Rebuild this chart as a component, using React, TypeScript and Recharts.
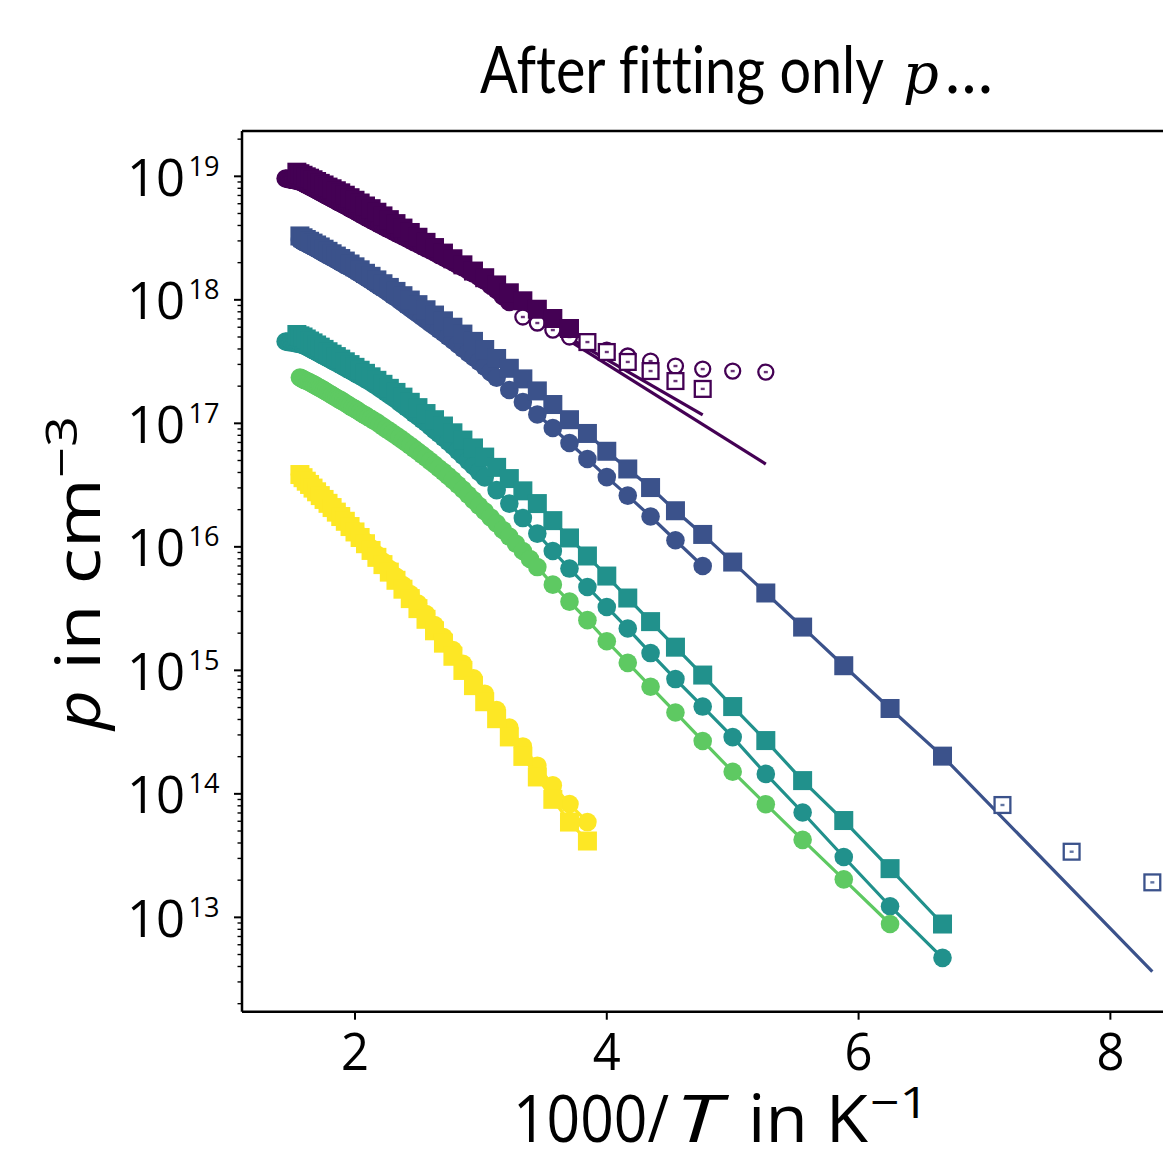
import React from "react";
import { ComposedChart, Line, Scatter, XAxis, YAxis, ReferenceLine } from "recharts";

// ---------- layout constants ----------
const W = 1163;
const H = 1149;
const PLOT_LEFT = 242;
const PLOT_TOP = 131;
const PLOT_BOTTOM = 1011.7;
const X_MIN = 1.1025;
const X_MAX = 8.418;
const Y_MIN = 1.722e12;
const Y_MAX = 2.328e19;

const PURPLE = "#440154";
const BLUE = "#3b528b";
const TEAL = "#21918c";
const GREEN = "#5ec962";
const YELLOW = "#fde725";

// ---------- data ----------
// measurement temperatures in K (x axis shows 1000/T)
const temperaturesK = [
  690, 680, 670, 660, 650, 640, 630, 620, 610, 600, 590, 580, 570, 560, 550, 540, 530, 520, 510, 500,
  490, 480, 470, 460, 450, 440, 430, 420, 410, 400, 390, 380, 370, 360, 350, 340, 330, 320, 310, 300,
  290, 280, 270, 260, 250, 240, 230, 220, 210, 200, 190, 180, 170, 160, 150, 140, 130, 120,
];
// finer temperature grid of the high-temperature circle runs
const temperaturesFineK = [
  690, 685, 680, 675, 670, 665, 660, 655, 650, 645, 640, 635, 630, 625, 620, 615, 610, 605, 600, 595,
  590, 585, 580, 575, 570, 565, 560, 555, 550, 545, 540, 535, 530, 525, 520, 515, 510, 505, 500, 495,
  490, 485, 480, 475, 470, 465, 460, 455, 450, 445, 440, 435, 430, 425, 420, 415, 410, 405, 400, 395,
  390, 385, 380, 375, 370, 365, 360, 355, 350, 345, 340, 335, 330, 325, 320, 315, 310, 305, 300, 295, 290,
];

const xTicks = [2, 4, 6, 8];
const yDecades = [12, 13, 14, 15, 16, 17, 18, 19];

// purple sample
const purpleCirclesFilled = [ // 690..310 K, 5 K steps
  9.6e18, 9.55e18, 9.51e18, 9.46e18, 9.42e18, 9.37e18, 9.33e18, 9.28e18, 9.23e18, 9.15e18,
  9.08e18, 8.95e18, 8.83e18, 8.69e18, 8.55e18, 8.41e18, 8.27e18, 8.13e18, 8.0e18, 7.86e18,
  7.72e18, 7.58e18, 7.44e18, 7.3e18, 7.16e18, 7.02e18, 6.89e18, 6.74e18, 6.6e18, 6.46e18,
  6.33e18, 6.19e18, 6.06e18, 5.92e18, 5.78e18, 5.64e18, 5.5e18, 5.37e18, 5.24e18, 5.1e18,
  4.97e18, 4.83e18, 4.7e18, 4.56e18, 4.43e18, 4.31e18, 4.19e18, 4.06e18, 3.94e18, 3.82e18,
  3.71e18, 3.59e18, 3.48e18, 3.37e18, 3.26e18, 3.15e18, 3.04e18, 2.93e18, 2.83e18, 2.72e18,
  2.62e18, 2.52e18, 2.42e18, 2.31e18, 2.21e18, 2.11e18, 2.02e18, 1.92e18, 1.83e18, 1.73e18,
  1.63e18, 1.53e18, 1.43e18, 1.31e18, 1.2e18, 1.07e18, 9.6e17,
];
const purpleCirclesOpen = [7.26e17, 6.49e17, 5.69e17, 5.0e17, 4.47e17, 3.92e17, 3.51e17, 3.19e17, 2.91e17, 2.75e17, 2.65e17, 2.6e17]; // 300..190 K
const purpleSquaresFilled = [ // 650..270 K
  1.08e19, 1.05e19, 1.02e19, 9.91e18, 9.66e18, 9.38e18, 9.08e18, 8.77e18, 8.51e18, 8.18e18,
  7.93e18, 7.64e18, 7.35e18, 7.03e18, 6.71e18, 6.4e18, 6.08e18, 5.75e18, 5.47e18, 5.12e18,
  4.78e18, 4.46e18, 4.14e18, 3.81e18, 3.51e18, 3.21e18, 2.92e18, 2.65e18, 2.39e18, 2.15e18,
  1.92e18, 1.71e18, 1.51e18, 1.32e18, 1.14e18, 9.82e17, 8.39e17, 7.06e17, 5.86e17,
];
const purpleSquaresOpen = [4.55e17, 3.78e17, 3.14e17, 2.65e17, 2.2e17, 1.9e17]; // 260..210 K
const purpleSquareFitK = [310, 210];
const purpleSquareFit = [9.35e17, 1.17e17];
const purpleCircleFitK = [310, 190];
const purpleCircleFit = [9.42e17, 4.68e16];

// blue sample
const blueSquaresFilled = [ // 640..150 K
  3.29e18, 3.18e18, 3.08e18, 2.98e18, 2.88e18, 2.78e18, 2.68e18, 2.57e18, 2.47e18, 2.36e18,
  2.26e18, 2.16e18, 2.06e18, 1.95e18, 1.85e18, 1.75e18, 1.64e18, 1.55e18, 1.45e18, 1.35e18,
  1.26e18, 1.17e18, 1.08e18, 9.96e17, 9.14e17, 8.31e17, 7.53e17, 6.76e17, 6.0e17, 5.28e17,
  4.61e17, 3.96e17, 3.35e17, 2.79e17, 2.29e17, 1.83e17, 1.42e17, 1.07e17, 8.28e16, 5.94e16,
  4.27e16, 3.02e16, 1.96e16, 1.26e16, 7.53e15, 4.23e15, 2.24e15, 1.09e15, 4.91e14, 2.02e14,
];
const blueSquaresOpen = [8.12e13, 3.4e13, 1.92e13]; // 140, 130, 120 K
const blueSquareFitEndK = 120;
const blueSquareFitEnd = 3.63e12;
const blueCirclesFine = [ // 640..320 K, 5 K steps
  3.05e18, 3.0e18, 2.95e18, 2.9e18, 2.86e18, 2.81e18, 2.77e18, 2.72e18, 2.68e18, 2.63e18,
  2.58e18, 2.53e18, 2.48e18, 2.43e18, 2.38e18, 2.33e18, 2.29e18, 2.24e18, 2.19e18, 2.14e18,
  2.1e18, 2.05e18, 2.0e18, 1.95e18, 1.91e18, 1.86e18, 1.82e18, 1.77e18, 1.72e18, 1.67e18,
  1.62e18, 1.57e18, 1.52e18, 1.47e18, 1.42e18, 1.37e18, 1.32e18, 1.27e18, 1.23e18, 1.18e18,
  1.13e18, 1.08e18, 1.04e18, 9.9e17, 9.42e17, 8.96e17, 8.53e17, 8.1e17, 7.69e17, 7.27e17,
  6.88e17, 6.48e17, 6.11e17, 5.74e17, 5.4e17, 5.04e17, 4.7e17, 4.35e17, 4.03e17, 3.72e17,
  3.44e17, 3.15e17, 2.88e17, 2.6e17, 2.34e17,
];
const blueCirclesCoarse = [1.86e17, 1.49e17, 1.18e17, 9.16e16, 6.93e16, 5.14e16, 3.67e16, 2.6e16, 1.76e16, 1.13e16, 6.99e15]; // 310..210 K

// teal sample
const tealSquares = [ // 650..150 K
  5.24e17, 5.11e17, 5.0e17, 4.82e17, 4.64e17, 4.48e17, 4.31e17, 4.14e17, 3.97e17, 3.8e17,
  3.63e17, 3.47e17, 3.31e17, 3.15e17, 2.99e17, 2.84e17, 2.69e17, 2.54e17, 2.38e17, 2.23e17,
  2.07e17, 1.92e17, 1.78e17, 1.63e17, 1.48e17, 1.34e17, 1.2e17, 1.07e17, 9.51e16, 8.38e16,
  7.32e16, 6.32e16, 5.33e16, 4.4e16, 3.57e16, 2.84e16, 2.24e16, 1.63e16, 1.18e16, 8.43e15,
  5.8e15, 3.85e15, 2.48e15, 1.54e15, 9.16e14, 5.09e14, 2.7e14, 1.28e14, 6.08e13, 2.48e13, 8.83e12,
];
const tealCirclesFine = [ // 690..330 K, 5 K steps
  4.6e17, 4.58e17, 4.57e17, 4.55e17, 4.54e17, 4.51e17, 4.49e17, 4.46e17, 4.44e17, 4.41e17,
  4.39e17, 4.35e17, 4.31e17, 4.25e17, 4.19e17, 4.12e17, 4.06e17, 3.99e17, 3.92e17, 3.85e17,
  3.78e17, 3.71e17, 3.64e17, 3.57e17, 3.51e17, 3.44e17, 3.37e17, 3.3e17, 3.23e17, 3.16e17,
  3.1e17, 3.03e17, 2.97e17, 2.89e17, 2.82e17, 2.75e17, 2.69e17, 2.62e17, 2.55e17, 2.48e17,
  2.42e17, 2.35e17, 2.28e17, 2.21e17, 2.14e17, 2.07e17, 2.0e17, 1.92e17, 1.85e17, 1.77e17,
  1.7e17, 1.63e17, 1.56e17, 1.48e17, 1.41e17, 1.34e17, 1.27e17, 1.2e17, 1.14e17, 1.07e17,
  1.01e17, 9.44e16, 8.82e16, 8.23e16, 7.67e16, 7.09e16, 6.55e16, 5.99e16, 5.48e16, 4.97e16,
  4.51e16, 4.05e16, 3.64e16,
];
const tealCirclesCoarse = [ // 320..150 K
  2.88e16, 2.24e16, 1.71e16, 1.28e16, 9.25e15, 6.67e15, 4.73e15, 3.26e15, 2.18e15, 1.38e15,
  8.5e14, 5.09e14, 2.88e14, 1.45e14, 7.06e13, 3.08e13, 1.23e13, 4.7e12,
];

// green sample
const greenCirclesFine = [ // 640..290 K, 5 K steps
  2.35e17, 2.31e17, 2.28e17, 2.24e17, 2.21e17, 2.18e17, 2.15e17, 2.11e17, 2.08e17, 2.04e17,
  2.0e17, 1.96e17, 1.93e17, 1.89e17, 1.85e17, 1.81e17, 1.77e17, 1.73e17, 1.69e17, 1.65e17,
  1.61e17, 1.57e17, 1.54e17, 1.5e17, 1.46e17, 1.42e17, 1.38e17, 1.34e17, 1.31e17, 1.27e17,
  1.23e17, 1.19e17, 1.16e17, 1.12e17, 1.09e17, 1.05e17, 1.02e17, 9.79e16, 9.4e16, 9.03e16,
  8.68e16, 8.32e16, 7.98e16, 7.62e16, 7.28e16, 6.93e16, 6.59e16, 6.24e16, 5.91e16, 5.58e16,
  5.26e16, 4.94e16, 4.64e16, 4.33e16, 4.05e16, 3.75e16, 3.47e16, 3.18e16, 2.91e16, 2.64e16,
  2.39e16, 2.15e16, 1.94e16, 1.73e16, 1.55e16, 1.37e16, 1.21e16, 1.06e16, 9.25e15, 7.97e15,
  6.86e15,
];
const greenCirclesCoarse = [ // 280..160 K
  4.94e15, 3.6e15, 2.55e15, 1.72e15, 1.15e15, 7.37e14, 4.56e14, 2.68e14, 1.51e14, 8.24e13,
  4.24e13, 2.03e13, 8.83e12,
];

// yellow sample (640..260 K)
const yellowSquares = [
  3.85e16, 3.63e16, 3.4e16, 3.2e16, 2.99e16, 2.79e16, 2.6e16, 2.42e16, 2.25e16, 2.08e16,
  1.91e16, 1.76e16, 1.61e16, 1.46e16, 1.32e16, 1.19e16, 1.06e16, 9.35e15, 8.22e15, 7.18e15,
  6.24e15, 5.36e15, 4.54e15, 3.81e15, 3.16e15, 2.59e15, 2.09e15, 1.66e15, 1.3e15, 9.98e14,
  7.52e14, 5.57e14, 4.06e14, 2.89e14, 2.01e14, 1.37e14, 9.03e13, 5.91e13, 4.15e13,
];
const yellowCircles = [
  3.85e16, 3.63e16, 3.4e16, 3.2e16, 2.99e16, 2.79e16, 2.61e16, 2.44e16, 2.27e16, 2.1e16,
  1.94e16, 1.79e16, 1.65e16, 1.5e16, 1.36e16, 1.23e16, 1.1e16, 9.78e15, 8.65e15, 7.59e15,
  6.64e15, 5.74e15, 4.91e15, 4.15e15, 3.47e15, 2.86e15, 2.33e15, 1.86e15, 1.46e15, 1.13e15,
  8.61e14, 6.47e14, 4.77e14, 3.44e14, 2.42e14, 1.69e14, 1.17e14, 8.27e13, 5.91e13,
];

// ---------- helpers ----------
type Pt = { x: number; p: number };
const fromGrid = (grid: number[], startK: number, values: number[]): Pt[] => {
  const i0 = grid.indexOf(startK);
  return values.map((p, i) => ({ x: 1000 / grid[i0 + i], p }));
};
const fromK = (startK: number, values: number[]) => fromGrid(temperaturesK, startK, values);
const fromFineK = (startK: number, values: number[]) => fromGrid(temperaturesFineK, startK, values);
const atK = (ks: number[], values: number[]): Pt[] => values.map((p, i) => ({ x: 1000 / ks[i], p }));

const S = {
  purpleCF: fromFineK(690, purpleCirclesFilled),
  purpleCO: fromK(300, purpleCirclesOpen),
  purpleSF: fromK(650, purpleSquaresFilled),
  purpleSO: fromK(260, purpleSquaresOpen),
  purpleSFit: atK(purpleSquareFitK, purpleSquareFit),
  purpleCFit: atK(purpleCircleFitK, purpleCircleFit),
  blueSF: fromK(640, blueSquaresFilled),
  blueSO: fromK(140, blueSquaresOpen),
  blueC: [...fromFineK(640, blueCirclesFine), ...fromK(310, blueCirclesCoarse)],
  tealS: fromK(650, tealSquares),
  tealC: [...fromFineK(690, tealCirclesFine), ...fromK(320, tealCirclesCoarse)],
  greenC: [...fromFineK(640, greenCirclesFine), ...fromK(280, greenCirclesCoarse)],
  yellowS: fromK(640, yellowSquares),
  yellowC: fromK(640, yellowCircles),
};
const blueSquareLine = [...S.blueSF, ...atK([blueSquareFitEndK], [blueSquareFitEnd])];

const yTickValues: number[] = [];
yDecades.forEach((e) => {
  for (let k = 1; k <= 9; k++) {
    const v = k * Math.pow(10, e);
    if (v >= Y_MIN && v <= Y_MAX) yTickValues.push(v);
  }
});

// ---------- marker shapes ----------
const filledCircle = (color: string) => (props: any) => {
  const { cx, cy } = props;
  if (cx == null || cy == null) return <g />;
  return <circle cx={cx} cy={cy} r={9.3} fill={color} />;
};
const filledSquare = (color: string) => (props: any) => {
  const { cx, cy } = props;
  if (cx == null || cy == null) return <g />;
  return <rect x={cx - 9.5} y={cy - 9.5} width={19} height={19} fill={color} />;
};
const openSquare = (color: string) => (props: any) => {
  const { cx, cy } = props;
  if (cx == null || cy == null) return <g />;
  return (
    <g>
      <rect x={cx - 7.9} y={cy - 7.9} width={15.8} height={15.8} fill="#fff" stroke={color} strokeWidth={2.3} />
      <rect x={cx - 2} y={cy - 1.2} width={4} height={2.4} fill={color} opacity={0.8} />
    </g>
  );
};
const openCircle = (color: string) => (props: any) => {
  const { cx, cy } = props;
  if (cx == null || cy == null) return <g />;
  return (
    <g>
      <circle cx={cx} cy={cy} r={7.5} fill="#fff" stroke={color} strokeWidth={2.3} />
      <rect x={cx - 2} y={cy - 1.2} width={4} height={2.4} fill={color} opacity={0.8} />
    </g>
  );
};

// ---------- ticks ----------
const FONT = "'Open Sans', 'Noto Sans', sans-serif";
const TITLE_FONT = "Lato, 'Open Sans', sans-serif";
const noLig = { fontVariantLigatures: "none" as const, fontFeatureSettings: "'liga' 0" };

const YTick = (props: any) => {
  const { y, payload } = props;
  const v = payload.value as number;
  const e = Math.floor(Math.log10(v) + 1e-9);
  const mant = Math.round(v / Math.pow(10, e));
  const major = mant === 1;
  return (
    <g>
      <line x1={PLOT_LEFT - (major ? 8 : 4.5)} x2={PLOT_LEFT} y1={y} y2={y} stroke="#000" strokeWidth={major ? 2 : 1.4} />
      {major && (
        <text x={127} y={y + 19.5} fontFamily={FONT} fontSize={52} fill="#000" textLength={58} lengthAdjust="spacingAndGlyphs">
          10
        </text>
      )}
      {major && (
        <text x={188.5} y={y - 0.5} fontFamily={FONT} fontSize={28} fill="#000" textLength={31} lengthAdjust="spacingAndGlyphs">
          {String(e)}
        </text>
      )}
    </g>
  );
};

const XTick = (props: any) => {
  const { x, payload } = props;
  return (
    <g>
      <line x1={x} x2={x} y1={PLOT_BOTTOM} y2={PLOT_BOTTOM + 8} stroke="#000" strokeWidth={2} />
      <text x={x - 14} y={1070} fontFamily={FONT} fontSize={52} fill="#000" textLength={28} lengthAdjust="spacingAndGlyphs">
        {String(payload.value)}
      </text>
    </g>
  );
};

const lineProps = { type: "linear" as const, dataKey: "p", dot: false, activeDot: false, isAnimationActive: false, strokeWidth: 3.2 };

export default function App() {
  return (
    <div style={{ position: "absolute", left: 0, top: 0, width: W, height: H, background: "#fff" }}>
      <ComposedChart width={W} height={H} margin={{ top: PLOT_TOP, right: 0, bottom: 0, left: 0 }}>
        <XAxis
          type="number"
          dataKey="x"
          domain={[X_MIN, X_MAX]}
          allowDataOverflow
          ticks={xTicks}
          interval={0}
          tick={(p: any) => <XTick {...p} />}
          tickLine={false}
          axisLine={{ stroke: "#000", strokeWidth: 2.5 }}
          height={H - PLOT_BOTTOM}
        />
        <YAxis
          type="number"
          dataKey="p"
          scale="log"
          domain={[Y_MIN, Y_MAX]}
          allowDataOverflow
          ticks={yTickValues}
          interval={0}
          tick={(p: any) => <YTick {...p} />}
          tickLine={false}
          axisLine={{ stroke: "#000", strokeWidth: 2.5 }}
          width={PLOT_LEFT}
        />
        <ReferenceLine y={Y_MAX} stroke="#000" strokeWidth={2.5} ifOverflow="visible" />

        <Line {...lineProps} data={S.purpleSFit} stroke={PURPLE} />
        <Line {...lineProps} data={S.purpleCFit} stroke={PURPLE} />
        <Line {...lineProps} data={blueSquareLine} stroke={BLUE} />
        <Line {...lineProps} data={S.blueC} stroke={BLUE} />
        <Line {...lineProps} data={S.tealS} stroke={TEAL} />
        <Line {...lineProps} data={S.tealC} stroke={TEAL} />
        <Line {...lineProps} data={S.greenC} stroke={GREEN} />
        <Line {...lineProps} data={S.yellowS} stroke={YELLOW} />
        <Line {...lineProps} data={S.yellowC} stroke={YELLOW} />

        <Scatter data={S.purpleCO} dataKey="p" isAnimationActive={false} shape={openCircle(PURPLE)} />
        <Scatter data={S.purpleCF} dataKey="p" isAnimationActive={false} shape={filledCircle(PURPLE)} />
        <Scatter data={S.purpleSF} dataKey="p" isAnimationActive={false} shape={filledSquare(PURPLE)} />
        <Scatter data={S.purpleSO} dataKey="p" isAnimationActive={false} shape={openSquare(PURPLE)} />
        <Scatter data={S.blueC} dataKey="p" isAnimationActive={false} shape={filledCircle(BLUE)} />
        <Scatter data={S.blueSF} dataKey="p" isAnimationActive={false} shape={filledSquare(BLUE)} />
        <Scatter data={S.blueSO} dataKey="p" isAnimationActive={false} shape={openSquare(BLUE)} />
        <Scatter data={S.tealC} dataKey="p" isAnimationActive={false} shape={filledCircle(TEAL)} />
        <Scatter data={S.tealS} dataKey="p" isAnimationActive={false} shape={filledSquare(TEAL)} />
        <Scatter data={S.greenC} dataKey="p" isAnimationActive={false} shape={filledCircle(GREEN)} />
        <Scatter data={S.yellowC} dataKey="p" isAnimationActive={false} shape={filledCircle(YELLOW)} />
        <Scatter data={S.yellowS} dataKey="p" isAnimationActive={false} shape={filledSquare(YELLOW)} />
      </ComposedChart>

      <svg width={W} height={H} style={{ position: "absolute", left: 0, top: 0, pointerEvents: "none" }}>
        {/* title */}
        <text x={480} y={93.3} fontFamily={TITLE_FONT} fontSize={65} fill="#000" textLength={404} lengthAdjust="spacingAndGlyphs" style={noLig}>
          After fitting only
        </text>
        <text x={903} y={93.3} fontFamily="'DejaVu Serif', serif" fontStyle="italic" fontSize={56} fill="#000">
          p
        </text>
        <text x={945} y={93.3} fontFamily={TITLE_FONT} fontSize={65} fill="#000" textLength={48} lengthAdjust="spacingAndGlyphs">
          …
        </text>
        {/* x-axis title */}
        <text x={513} y={1141.7} fontFamily={FONT} fontSize={66} fill="#000" textLength={156} lengthAdjust="spacingAndGlyphs">
          1000/
        </text>
        <text x={675} y={1141.7} fontFamily={FONT} fontStyle="italic" fontSize={66} fill="#000" textLength={46} lengthAdjust="spacingAndGlyphs">
          T
        </text>
        <text x={748} y={1141.7} fontFamily={FONT} fontSize={66} fill="#000" textLength={120} lengthAdjust="spacingAndGlyphs">
          in K
        </text>
        <text x={870} y={1118} fontFamily={FONT} fontSize={44} fill="#000" textLength={59} lengthAdjust="spacingAndGlyphs">
          −1
        </text>
        {/* y-axis title */}
        <g transform="translate(100,730) rotate(-90)">
          <text x={0} y={0} fontFamily={FONT} fontStyle="italic" fontSize={62} fill="#000" textLength={40} lengthAdjust="spacingAndGlyphs">
            p
          </text>
          <text x={60} y={0} fontFamily={FONT} fontSize={62} fill="#000" textLength={192} lengthAdjust="spacingAndGlyphs">
            in cm
          </text>
        </g>
        <g transform="translate(77,478) rotate(-90)">
          <text x={0} y={0} fontFamily={FONT} fontSize={44} fill="#000" textLength={62} lengthAdjust="spacingAndGlyphs">
            −3
          </text>
        </g>
      </svg>
    </div>
  );
}
